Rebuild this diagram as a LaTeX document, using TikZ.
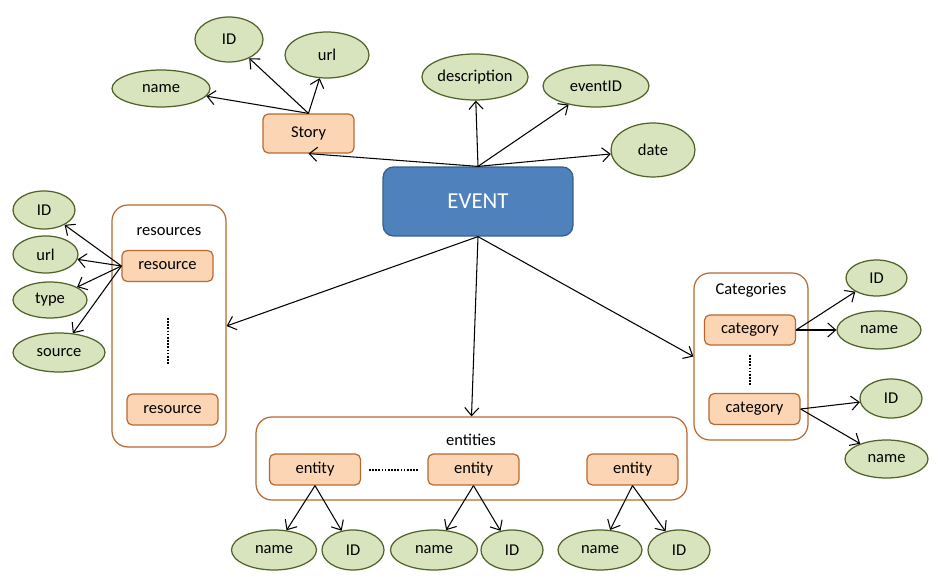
\documentclass[tikz,border=0pt]{standalone}
\usepackage{fontspec}
\setmainfont{Carlito}
\usetikzlibrary{arrows.meta}
\usetikzlibrary{shapes.geometric}
\definecolor{leaf}{HTML}{D7E4BD}
\definecolor{leafline}{HTML}{4F6228}
\definecolor{peach}{HTML}{FCD5B5}
\definecolor{rust}{HTML}{B9692E}
\definecolor{sky}{HTML}{4F81BD}
\definecolor{skyline}{HTML}{385D8A}
\tikzset{attr/.style = {ellipse, draw = leafline, fill = leaf, line width = 0.7pt, inner sep = 0,
                        minimum height = 0.76cm, font = \fontsize{9.4}{10}\selectfont}}
\tikzset{item/.style = {draw = rust, fill = peach, rounded corners = 3pt, line width = 0.7pt, inner sep = 0,
                        minimum width = 1.82cm, minimum height = 0.62cm, font = \fontsize{9.4}{10}\selectfont}}
\tikzset{group/.style = {draw = rust, rounded corners = 9pt, line width = 0.7pt, inner sep = 0}}
\tikzset{title/.style = {inner sep = 0, font = \fontsize{9.4}{10}\selectfont}}
\tikzset{link/.style = {-{Straight Barb[length = 4.5pt, width = 8pt]}, line width = 0.6pt}}
\tikzset{dots/.style = {line width = 1.1pt, dash pattern = on 0.9pt off 0.9pt}}

\begin{document}
\begin{tikzpicture}[x = 0.02cm, y = -0.02cm]
  \useasboundingbox (0, 0) rectangle (938, 577);

  \node [draw = skyline, fill = sky, rounded corners = 6pt, line width = 0.7pt, minimum width = 3.8cm,
         minimum height = 1.38cm, text = white, font = \fontsize{13}{15}\selectfont] (event) at (478, 201.5) {EVENT};

  % story
  \node [item, minimum height = 0.78cm] (story) at (308.5, 133.5) {Story};
  \node [attr, minimum width = 1.36cm, minimum height = 0.9cm] (storyid) at (229, 39.5) {ID};
  \node [attr, minimum width = 1.68cm, minimum height = 0.92cm] (storyurl) at (327, 55) {url};
  \node [attr, minimum width = 1.96cm, minimum height = 0.74cm] (storyname) at (161, 88.5) {name};
  \draw [link] (story.north) -- (storyname);
  \draw [link] (story.north) -- (storyid);
  \draw [link] (story.north) -- (storyurl);

  \node [attr, minimum width = 2.12cm, minimum height = 0.92cm] (desc) at (475, 77) {description};
  \node [attr, minimum width = 2.12cm, minimum height = 0.84cm] (eventid) at (596, 86) {eventID};
  \node [attr, minimum width = 1.68cm, minimum height = 1.08cm] (date) at (653, 150) {date};
  \draw [link] (event.north) -- (story.south);
  \draw [link] (event.north) -- (desc);
  \draw [link] (event.north) -- (eventid);
  \draw [link] (event.north) -- (date);

  % resources
  \node [group, minimum width = 2.28cm, minimum height = 4.84cm] (resources) at (169, 326) {};
  \node [title] (restitle) at (169, 232) {resources};
  \node [item] (resa) at (167.5, 266) {resource};
  \node [item] (resb) at (172.5, 409.5) {resource};
  \draw [dots] (168, 318) -- (168, 364);
  \node [attr, minimum width = 1.24cm] (resid) at (44, 210) {ID};
  \node [attr, minimum width = 1.3cm, minimum height = 0.74cm] (resurl) at (45.5, 254.5) {url};
  \node [attr, minimum width = 1.48cm, minimum height = 0.72cm] (restype) at (50, 300) {type};
  \node [attr, minimum width = 1.84cm, minimum height = 0.78cm] (ressource) at (59, 352.5) {source};
  \draw [link] (resa.west) -- (resid);
  \draw [link] (resa.west) -- (resurl);
  \draw [link] (resa.west) -- (restype);
  \draw [link] (resa.west) -- (ressource);

  % categories
  \node [group, minimum width = 2.28cm, minimum height = 3.34cm] (cats) at (751, 356.5) {};
  \node [title] (cattitle) at (751, 290) {Categories};
  \node [item, minimum height = 0.6cm] (cata) at (750, 330) {category};
  \node [item] (catb) at (754.5, 409) {category};
  \draw [dots] (750, 355) -- (750, 385);
  \node [attr, minimum width = 1.22cm, minimum height = 0.72cm] (cataid) at (876.5, 278) {ID};
  \node [attr, minimum width = 1.68cm] (cataname) at (879, 330) {name};
  \node [attr, minimum width = 1.24cm, minimum height = 0.78cm] (catbid) at (891, 398.5) {ID};
  \node [attr, minimum width = 1.66cm] (catbname) at (886.5, 459) {name};
  \draw [link] (cata.east) -- (cataid);
  \draw [link] (cata.east) -- (cataname);
  \draw [link] (catb.east) -- (catbid);
  \draw [link] (catb.east) -- (catbname);

  % entities
  \node [group, minimum width = 8.62cm, minimum height = 1.66cm] (ents) at (471.5, 458.5) {};
  \node [title] (enttitle) at (471, 440) {entities};
  \draw [dots] (369, 470) -- (418, 470);
  \foreach \e/\x/\nx/\nw/\ix in {enta/315/274/1.7/353, entb/473.5/434/1.74/512, entc/632.5/600/1.68/679} {
    \node [item] (\e) at (\x, 469.5) {entity};
    \node [attr, minimum width = \nw cm, minimum height = 0.8cm] (\e-name) at (\nx, 550) {name};
    \node [attr, minimum width = 1.24cm, minimum height = 0.8cm] (\e-id) at (\ix, 550) {ID};
    \draw [link] (\e.south) -- (\e-name);
    \draw [link] (\e.south) -- (\e-id);
  }

  \draw [link] (event.south) -- (resources.east);
  \draw [link] (event.south) -- (ents.north);
  \draw [link] (event.south) -- (cats.west);
\end{tikzpicture}
\end{document}
